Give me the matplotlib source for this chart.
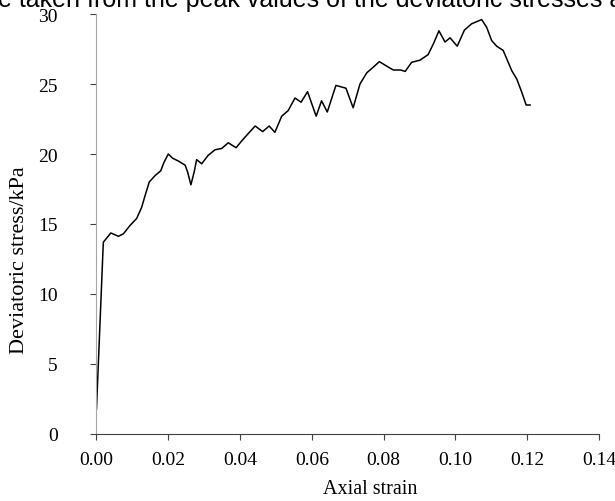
import matplotlib
matplotlib.use("Agg")
import matplotlib.pyplot as plt

# strain / deviatoric stress
strain = [0.0000, 0.0019, 0.0040, 0.0061, 0.0075, 0.0093, 0.0112, 0.0126, 0.0135,
          0.0147, 0.0163, 0.0179, 0.0188, 0.0200, 0.0212, 0.0228, 0.0247, 0.0254,
          0.0263, 0.0272, 0.0279, 0.0293, 0.0311, 0.0330, 0.0349, 0.0367, 0.0389,
          0.0405, 0.0426, 0.0442, 0.0463, 0.0481, 0.0497, 0.0516, 0.0534, 0.0553,
          0.0570, 0.0588, 0.0612, 0.0627, 0.0643, 0.0667, 0.0695, 0.0715, 0.0734,
          0.0753, 0.0771, 0.0788, 0.0807, 0.0827, 0.0847, 0.0860, 0.0878, 0.0901,
          0.0924, 0.0940, 0.0954, 0.0971, 0.0985, 0.1005, 0.1025, 0.1045, 0.1073,
          0.1087, 0.1101, 0.1115, 0.1133, 0.1157, 0.1171, 0.1185, 0.1197, 0.1208]
stress = [1.8, 13.7, 14.36, 14.12, 14.3, 14.88, 15.4, 16.2, 17.0,
          18.0, 18.45, 18.8, 19.4, 20.0, 19.7, 19.5, 19.2, 18.7,
          17.8, 18.7, 19.6, 19.3, 19.9, 20.3, 20.4, 20.8, 20.45,
          20.95, 21.55, 22.0, 21.6, 22.0, 21.55, 22.7, 23.1, 24.0,
          23.7, 24.45, 22.7, 23.8, 23.0, 24.9, 24.7, 23.3, 25.0,
          25.8, 26.2, 26.6, 26.3, 26.0, 26.0, 25.9, 26.55, 26.7,
          27.1, 27.95, 28.8, 28.0, 28.3, 27.7, 28.85, 29.3, 29.6,
          29.05, 28.1, 27.7, 27.4, 25.95, 25.35, 24.4, 23.5, 23.5]

xticks = [0.00, 0.02, 0.04, 0.06, 0.08, 0.10, 0.12, 0.14]
yticks = [0, 5, 10, 15, 20, 25, 30]

plt.rcParams['font.family'] = ['Liberation Serif', 'DejaVu Serif']

fig = plt.figure(figsize=(6.15, 5.02), dpi=100)
ax = fig.add_axes([0.1569, 0.1335, 0.8171, 0.8366])

ax.plot(strain, stress, color='black', lw=1.1, solid_joinstyle='round')

ax.set_xlim(0, 0.14)
ax.set_ylim(0, 30)
ax.set_xticks(xticks)
ax.set_xticklabels(['%.2f' % t for t in xticks])
ax.set_yticks(yticks)

for s in ['top', 'right']:
    ax.spines[s].set_visible(False)
ax.spines['left'].set_color('#a6a6a6')
ax.spines['bottom'].set_color('#404040')
ax.tick_params(axis='x', direction='out', length=4, width=0.8, color='#404040',
               labelsize=14, pad=8)
ax.tick_params(axis='y', direction='out', length=4, width=0.8, color='#404040',
               labelsize=14, pad=24)

fig.text(370 / 615, 1 - 490 / 502, 'Axial strain', ha='center', va='center', fontsize=14.5)
fig.text(20 / 615, 1 - 260 / 502, 'Deviatoric stress/kPa', ha='center', va='center',
         rotation=90, fontsize=16)

# caption line cut at the top edge of the figure
fig.text(-2 / 615, 1 - 7 / 502, 'e taken from the peak values of the deviatoric stresses at',
         family='Liberation Sans', fontsize=18, va='baseline', ha='left')

fig.savefig('out.png', dpi=100)
